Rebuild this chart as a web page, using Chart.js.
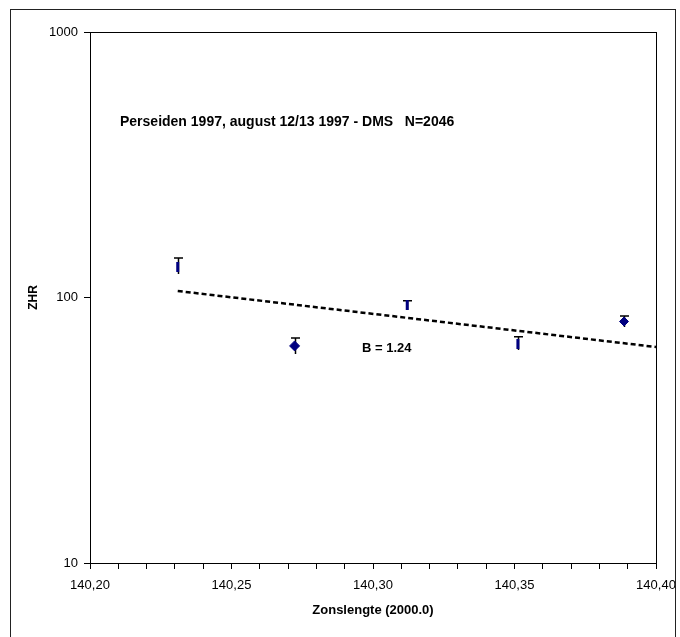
<!DOCTYPE html>
<html>
<head>
<meta charset="utf-8">
<script src="https://cdn.jsdelivr.net/npm/chart.js@4.4.1/dist/chart.umd.min.js"></script>
<style>
  html, body { margin: 0; padding: 0; background: #fff; }
  #wrap { width: 680px; height: 637px; }
</style>
</head>
<body>
<div id="wrap"><canvas id="chart"></canvas></div>
<script>
const solarLongitude = [140.231, 140.2723, 140.3121, 140.3512, 140.3887];
const zhr = [130.3, 65.7, 93.7, 66.8, 81.2];
const zhrLow = [122.6, 61.3, 89.7, 63.4, 77.4];
const zhrHigh = [141, 70.4, 97.3, 71.1, 85.2];

const trendX = [140.231, 140.40];
const trendY = [105.8, 65.1];

const xMajorTicks = [140.20, 140.25, 140.30, 140.35, 140.40];
const yTicks = [10, 100, 1000];

const title = 'Perseiden 1997, august 12/13 1997 - DMS   N=2046';
const slopeLabel = 'B = 1.24';

const navy = '#000080';
const font = 'Liberation Sans, Arial, sans-serif';

// minor ticks every 0.01 between the labelled ones
const xTicks = [];
xMajorTicks.forEach((v, i) => {
  xTicks.push(v);
  if (i < xMajorTicks.length - 1) {
    for (let k = 1; k < 5; k++) xTicks.push(+(v + k * 0.01).toFixed(2));
  }
});

const errorBars = {
  id: 'errorBars',
  beforeDatasetsDraw(chart) {
    const { ctx, scales: { x, y } } = chart;
    ctx.save();
    ctx.strokeStyle = '#000';
    ctx.lineWidth = 1.5;
    solarLongitude.forEach((sl, i) => {
      const px = Math.round(x.getPixelForValue(sl)) + 0.5;
      const lo = y.getPixelForValue(zhrLow[i]);
      const hi = y.getPixelForValue(zhrHigh[i]);
      ctx.beginPath();
      ctx.moveTo(px, lo);
      ctx.lineTo(px, hi);
      ctx.moveTo(px - 4.5, hi);
      ctx.lineTo(px + 4.5, hi);
      ctx.stroke();
    });
    ctx.restore();
  }
};

const frame = {
  id: 'frame',
  afterDraw(chart) {
    const { ctx, chartArea: a } = chart;
    ctx.save();
    ctx.strokeStyle = '#000';
    ctx.lineWidth = 1;
    ctx.strokeRect(Math.round(a.left) + 0.5, Math.round(a.top) + 0.5,
      Math.round(a.right - a.left), Math.round(a.bottom - a.top));
    ctx.strokeStyle = '#222';
    ctx.strokeRect(10.5, 9.5, 665, 640);
    ctx.fillStyle = '#000';
    ctx.textBaseline = 'middle';
    ctx.textAlign = 'left';
    ctx.font = 'bold 14px ' + font;
    ctx.fillText(title, a.left + 30, a.top + 90);
    ctx.font = 'bold 13px ' + font;
    ctx.fillText(slopeLabel, a.left + 272, a.top + 316);
    ctx.restore();
  }
};

new Chart(document.getElementById('chart'), {
  type: 'scatter',
  data: {
    datasets: [{
      label: 'ZHR',
      data: solarLongitude.map((v, i) => ({ x: v, y: zhr[i] })),
      backgroundColor: navy,
      borderColor: navy,
      pointStyle: ['line', 'rectRot', 'line', 'line', 'rectRot'],
      rotation: [90, 0, 90, 90, 0],
      pointRadius: [5, 5, 5, 5, 4.5],
      pointBorderWidth: [3, 1, 3, 3, 1],
    }, {
      type: 'line',
      label: 'trend',
      data: trendX.map((v, i) => ({ x: v, y: trendY[i] })),
      borderColor: '#000',
      borderWidth: 2.5,
      borderDash: [5, 3],
      pointRadius: 0,
      fill: false,
    }]
  },
  plugins: [errorBars, frame],
  options: {
    responsive: true,
    maintainAspectRatio: false,
    animation: false,
    layout: { padding: { left: 0, top: 32, right: 24, bottom: 0 } },
    plugins: {
      legend: { display: false },
      tooltip: { enabled: false },
    },
    scales: {
      x: {
        type: 'linear',
        min: 140.20,
        max: 140.40,
        afterBuildTicks: (scale) => { scale.ticks = xTicks.map(v => ({ value: v })); },
        afterFit: (scale) => {
          scale.height = 74;
          scale.paddingLeft = 0;
          scale.paddingRight = 0;
        },
        grid: { drawOnChartArea: false, drawTicks: true, tickLength: 6, color: '#000' },
        border: { color: '#000', width: 1 },
        ticks: {
          color: '#000',
          padding: 9,
          maxRotation: 0,
          autoSkip: false,
          font: { family: font, size: 13 },
          callback: (v) => xMajorTicks.some(m => Math.abs(m - v) < 1e-6) ? v.toFixed(2).replace('.', ',') : '',
        },
        title: {
          display: true,
          text: 'Zonslengte (2000.0)',
          color: '#000',
          font: { family: font, size: 13, weight: 'bold' },
          padding: { top: 0, bottom: 19 },
        },
      },
      y: {
        type: 'logarithmic',
        min: 10,
        max: 1000,
        afterBuildTicks: (scale) => { scale.ticks = yTicks.map(v => ({ value: v })); },
        afterFit: (scale) => { scale.width = 90; },
        grid: { drawOnChartArea: false, drawTicks: true, tickLength: 6, color: '#000' },
        border: { color: '#000', width: 1 },
        ticks: {
          color: '#000',
          padding: 6,
          font: { family: font, size: 13 },
          callback: (v) => String(v),
        },
        title: {
          display: true,
          text: 'ZHR',
          color: '#000',
          font: { family: font, size: 12, weight: 'bold' },
          padding: { top: 26, bottom: 0 },
        },
      },
    },
  },
});
</script>
</body>
</html>
